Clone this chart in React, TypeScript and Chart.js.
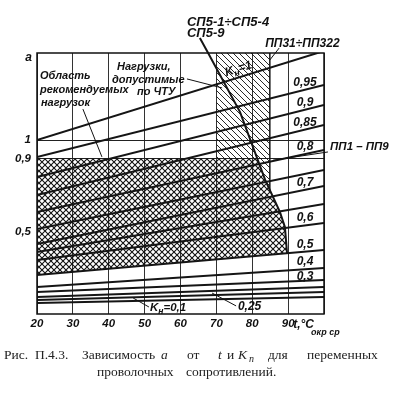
import React, { useEffect, useRef } from 'react';
import { Chart, registerables } from 'chart.js';

Chart.register(...registerables);

// ---- data (t in °C, a) ----
const T_ENDS = [20, 100];
const K_VALUES = [1, 0.95, 0.9, 0.85, 0.8, 0.75, 0.7, 0.65, 0.6, 0.5, 0.4, 0.3, 0.25, 0.2, 0.1];
const A_AT_20 = [1.0, 0.908, 0.799, 0.701, 0.609, 0.516, 0.435, 0.391, 0.348, 0.266, 0.201, 0.174, 0.147, 0.13, 0.114];
const A_AT_100 = [1.484, 1.299, 1.19, 1.082, 0.946, 0.837, 0.75, 0.652, 0.549, 0.402, 0.304, 0.239, 0.201, 0.174, 0.147];
const K_LABELS = ['', '0,95', '0,9', '0,85', '0,8', '', '0,7', '', '0,6', '0,5', '0,4', '0,3', '', '', ''];

const X_TICKS = [20, 30, 40, 50, 60, 70, 80, 90, 100];
const X_TICK_LABELS = ['20', '30', '40', '50', '60', '70', '80', '90', ''];
const Y_TICKS = [0.5, 0.9, 1];
const Y_TICK_LABELS = ['0,5', '0,9', '1'];
const A_MIN = 0.054;
const A_MAX = 1.473;

// boundary curve СП5
const SP_T = [65.4, 67.7, 76.6, 83.6, 87.7, 89.1, 89.7];
const SP_A = [1.554, 1.473, 1.152, 0.783, 0.609, 0.527, 0.385];
// boundary ПП31÷ПП322
const PP_T = [84.9, 84.9];
const PP_A = [1.473, 0.728];
// cross-hatched region (рекомендуемые нагрузки)
const CROSS_T = [20, 81.3, 83.6, 87.7, 89.1, 89.7, 20];
const CROSS_A = [0.9, 0.9, 0.783, 0.609, 0.527, 0.385, 0.266];
// single-hatched region (Kн = 1)
const SINGLE_T = [70, 84.9, 84.9, 83.6, 81.3, 70];
const SINGLE_A = [1.473, 1.473, 0.728, 0.783, 0.9, 0.9];

const LABEL_T = 94.7;

const NOTE = (size: number) => `italic bold ${size}px "Liberation Sans"`;

function makePattern(ctx: CanvasRenderingContext2D, kind: 'cross' | 'single') {
  const s = 6;
  const c = document.createElement('canvas');
  c.width = s;
  c.height = s;
  const g = c.getContext('2d')!;
  g.strokeStyle = '#111';
  g.lineWidth = kind === 'cross' ? 1.1 : 0.9;
  g.beginPath();
  g.moveTo(-1, -1);
  g.lineTo(s + 1, s + 1);
  if (kind === 'cross') {
    g.moveTo(-1, s + 1);
    g.lineTo(s + 1, -1);
  }
  g.stroke();
  return ctx.createPattern(c, 'repeat');
}

function drawParts(ctx: CanvasRenderingContext2D, parts: [string, boolean][], x: number, y: number, size: number) {
  let cx = x;
  for (const [txt, sub] of parts) {
    ctx.font = NOTE(sub ? size * 0.75 : size);
    ctx.fillText(txt, cx, sub ? y + size * 0.25 : y);
    cx += ctx.measureText(txt).width;
  }
  return cx - x;
}

const annotationPlugin = {
  id: 'annotations',
  afterDatasetsDraw(chart: any) {
    const { ctx, chartArea } = chart;
    ctx.save();
    ctx.strokeStyle = '#111';
    ctx.lineWidth = 1.5;
    ctx.strokeRect(chartArea.left, chartArea.top, chartArea.right - chartArea.left, chartArea.bottom - chartArea.top);
    ctx.restore();
  },
  afterDraw(chart: any) {
    const { ctx } = chart;
    const xs = chart.scales.x;
    const ys = chart.scales.y;
    const X = (t: number) => xs.getPixelForValue(t);
    const Y = (a: number) => ys.getPixelForValue(a);
    ctx.save();
    ctx.fillStyle = '#111';
    ctx.strokeStyle = '#111';
    ctx.textBaseline = 'alphabetic';

    // curve labels on the right
    ctx.textAlign = 'center';
    ctx.font = NOTE(12);
    K_LABELS.forEach((lab, i) => {
      if (!lab) return;
      const a = A_AT_20[i] + ((A_AT_100[i] - A_AT_20[i]) * (LABEL_T - T_ENDS[0])) / (T_ENDS[1] - T_ENDS[0]);
      const off = lab === '0,3' ? 1 : 4;
      ctx.fillText(lab, X(LABEL_T), Y(a) - off);
    });
    ctx.textAlign = 'left';

    const notes: [number, number, string, number][] = [
      [20.84, 1.332, 'Область', 11],
      [20.84, 1.255, 'рекомендуемых', 11],
      [21.1, 1.185, 'нагрузок', 11],
      [42.3, 1.38, 'Нагрузки,', 11],
      [40.9, 1.31, 'допустимые', 11],
      [47.9, 1.245, 'по ЧТУ', 11],
      [61.8, 1.62, 'СП5-1÷СП5-4', 13],
      [61.8, 1.56, 'СП5-9', 13],
      [83.6, 1.505, 'ПП31÷ПП322', 12],
      [101.7, 0.946, 'ПП1 – ПП9', 11.5],
      [76.0, 0.076, '0,25', 12],
      [16.7, 1.429, 'a', 12],
      [91.4, -0.022, 't,°C', 12],
    ];
    for (const [t, a, txt, size] of notes) {
      ctx.font = NOTE(size);
      ctx.fillText(txt, X(t), Y(a));
    }
    ctx.font = NOTE(9);
    ctx.fillText('окр ср', X(96.4), Y(-0.06));

    // Kн = 0,1
    drawParts(ctx, [['K', false], ['н', true], ['=0,1', false]], X(51.5), Y(0.071), 11.5);

    // Kн = 1 (rotated)
    ctx.save();
    ctx.translate(X(77.1), Y(1.402));
    ctx.rotate(-0.3);
    drawParts(ctx, [['K', false], ['н', true], ['=1', false]], -18, 5, 12);
    ctx.restore();

    // pointer lines
    const pointers: [number, number, number, number][] = [
      [32.8, 1.168, 38.1, 0.908],
      [61.8, 1.332, 71.6, 1.283],
      [87.5, 1.5, 84.9, 1.435],
      [101.1, 0.935, 85.8, 0.89],
      [68.8, 0.168, 75.5, 0.098],
      [46.8, 0.141, 51.2, 0.092],
    ];
    ctx.lineWidth = 1;
    for (const [t1, a1, t2, a2] of pointers) {
      ctx.beginPath();
      ctx.moveTo(X(t1), Y(a1));
      ctx.lineTo(X(t2), Y(a2));
      ctx.stroke();
    }

    // caption
    ctx.fillStyle = '#222';
    const serif = (it: boolean) => `${it ? 'italic ' : ''}13.5px "Liberation Serif"`;
    const line1: [number, string, boolean][] = [
      [4, 'Рис.', false],
      [35, 'П.4.3.', false],
      [82, 'Зависимость', false],
      [161, 'a', true],
      [187, 'от', false],
      [218, 't', true],
      [227, 'и', false],
      [238, 'K', true],
      [268, 'для', false],
      [307, 'переменных', false],
    ];
    for (const [x, w, it] of line1) {
      ctx.font = serif(it);
      ctx.fillText(w, x, 359);
      if (w === 'K') {
        ctx.font = 'italic 10px "Liberation Serif"';
        ctx.fillText('п', x + 11, 362);
      }
    }
    ctx.font = serif(false);
    ctx.fillText('проволочных', 97, 376);
    ctx.fillText('сопротивлений.', 186, 376);
    ctx.restore();
  },
};

export default function App() {
  const ref = useRef<HTMLCanvasElement>(null);

  useEffect(() => {
    const canvas = ref.current!;
    const ctx2d = canvas.getContext('2d')!;
    const cross = makePattern(ctx2d, 'cross');
    const single = makePattern(ctx2d, 'single');

    const kSets = K_VALUES.map((k, i) => ({
      label: 'Kн=' + k,
      data: [
        { x: T_ENDS[0], y: A_AT_20[i] },
        { x: T_ENDS[1], y: A_AT_100[i] },
      ],
      borderColor: '#151515',
      borderWidth: 2,
      pointRadius: 0,
      fill: false,
      order: 1,
    }));

    const chart = new Chart(canvas, {
      type: 'line',
      data: {
        datasets: [
          {
            label: 'cross',
            data: CROSS_T.map((t, i) => ({ x: t, y: CROSS_A[i] })),
            borderWidth: 0,
            borderColor: 'rgba(0,0,0,0)',
            backgroundColor: cross as any,
            fill: 'shape',
            pointRadius: 0,
            order: 20,
          },
          {
            label: 'single',
            data: SINGLE_T.map((t, i) => ({ x: t, y: SINGLE_A[i] })),
            borderWidth: 0,
            borderColor: 'rgba(0,0,0,0)',
            backgroundColor: single as any,
            fill: 'shape',
            pointRadius: 0,
            order: 19,
          },
          ...kSets,
          {
            label: 'СП5',
            data: SP_T.map((t, i) => ({ x: t, y: SP_A[i] })),
            borderColor: '#151515',
            borderWidth: 2,
            pointRadius: 0,
            fill: false,
            clip: false as any,
            order: 0,
          },
          {
            label: 'ПП31',
            data: PP_T.map((t, i) => ({ x: t, y: PP_A[i] })),
            borderColor: '#151515',
            borderWidth: 1.5,
            pointRadius: 0,
            fill: false,
            order: 0,
          },
        ] as any,
      },
      options: {
        responsive: false,
        animation: false,
        devicePixelRatio: 1,
        layout: { padding: { left: 0, right: 78, top: 53, bottom: 59 } },
        plugins: { legend: { display: false }, tooltip: { enabled: false } },
        scales: {
          x: {
            type: 'linear',
            min: 20,
            max: 100,
            afterBuildTicks: (s: any) => {
              s.ticks = X_TICKS.map((v) => ({ value: v }));
            },
            afterFit: (s: any) => {
              s.height = 20;
            },
            grid: { color: '#333', lineWidth: 1, drawTicks: false },
            border: { display: false },
            ticks: {
              autoSkip: false,
              maxRotation: 0,
              padding: 3,
              color: '#111',
              font: { family: 'Liberation Sans', size: 11.5, style: 'italic', weight: 'bold' },
              callback: (v: any) => X_TICK_LABELS[X_TICKS.indexOf(v)] ?? '',
            },
          },
          y: {
            type: 'linear',
            min: A_MIN,
            max: A_MAX,
            afterBuildTicks: (s: any) => {
              s.ticks = Y_TICKS.map((v) => ({ value: v }));
            },
            afterFit: (s: any) => {
              s.width = 37;
            },
            grid: {
              drawTicks: false,
              lineWidth: 1,
              color: (c: any) => (c.tick && c.tick.value === 0.5 ? 'rgba(0,0,0,0)' : '#222'),
            },
            border: { display: false },
            ticks: {
              padding: 6,
              color: '#111',
              font: { family: 'Liberation Sans', size: 11.5, style: 'italic', weight: 'bold' },
              callback: (v: any) => Y_TICK_LABELS[Y_TICKS.indexOf(v)] ?? '',
            },
          },
        },
      } as any,
      plugins: [annotationPlugin],
    });
    return () => chart.destroy();
  }, []);

  return (
    <div style={{ position: 'absolute', left: 0, top: 0, width: 402, height: 393, background: '#fff' }}>
      <canvas ref={ref} width={402} height={393} style={{ display: 'block' }} />
    </div>
  );
}
